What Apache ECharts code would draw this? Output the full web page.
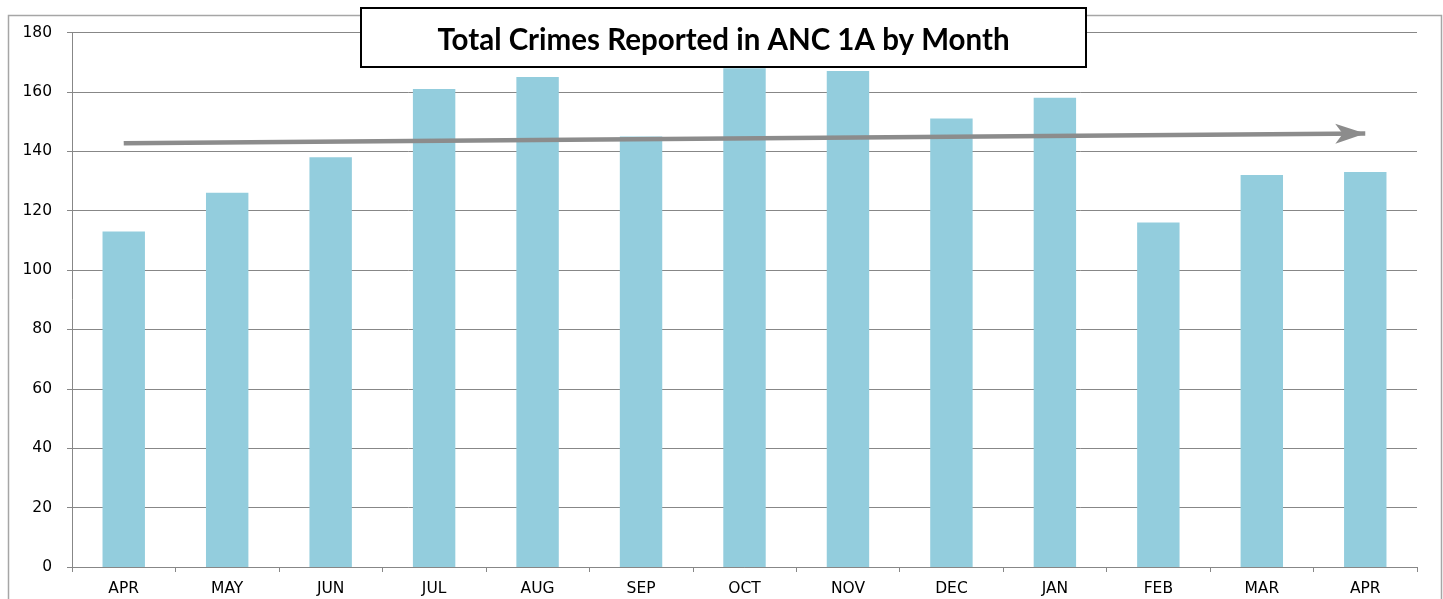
<!DOCTYPE html>
<html>
<head>
<meta charset="utf-8">
<script src="https://cdn.jsdelivr.net/npm/echarts@6/dist/echarts.min.js"></script>
<style>
html,body{margin:0;padding:0;background:#fff;}
#chart{width:1443px;height:599px;}
</style>
</head>
<body>
<div id="chart"></div>
<script>
const titleText = 'Total Crimes Reported in ANC 1A by Month';
const months = ['APR','MAY','JUN','JUL','AUG','SEP','OCT','NOV','DEC','JAN','FEB','MAR','APR'];
const crimes = [113, 126, 138, 161, 165, 145, 168, 167, 151, 158, 116, 132, 133];
const yTicks = [0, 20, 40, 60, 80, 100, 120, 140, 160, 180];
const trendStart = 142.7;
const trendEnd = 146.0;

const chart = echarts.init(document.getElementById('chart'), null, {renderer: 'canvas'});
const gridCol = '#878787';
chart.setOption({
  animation: false,
  backgroundColor: '#ffffff',
  grid: {left: 72, right: 26, top: 32.5, bottom: 32, containLabel: false},
  xAxis: {
    type: 'category',
    data: months.map((m, i) => i + ''),
    axisLine: {lineStyle: {color: gridCol, width: 1}},
    axisTick: {show: true, alignWithLabel: false, length: 5, lineStyle: {color: gridCol}},
    axisLabel: {
      formatter: (v, i) => months[i],
      color: '#000', fontFamily: 'DejaVu Sans', fontSize: 15.5, margin: 14
    },
    splitLine: {show: false}
  },
  yAxis: {
    type: 'value',
    min: yTicks[0], max: yTicks[yTicks.length - 1], interval: yTicks[1] - yTicks[0],
    axisLine: {show: true, lineStyle: {color: gridCol, width: 1}},
    axisTick: {show: true, length: 5, lineStyle: {color: gridCol}},
    axisLabel: {color: '#000', fontFamily: 'DejaVu Sans', fontSize: 15.5, margin: 20},
    splitLine: {show: true, lineStyle: {color: gridCol, width: 1}}
  },
  series: [{
    type: 'bar',
    data: crimes,
    barWidth: '41%',
    itemStyle: {color: '#93CDDD'},
    markLine: {
      silent: true,
      symbol: ['none', 'arrow'],
      symbolSize: [15, 30],
      label: {show: false},
      lineStyle: {color: '#8c8c8c', width: 4.5, type: 'solid'},
      data: [[{coord: [0, trendStart]}, {coord: [months.length - 1, trendEnd]}]],
      z: 10
    }
  }],
  graphic: [
    {type: 'rect', shape: {x: 8.5, y: 15.5, width: 1433, height: 600}, style: {fill: 'none', stroke: '#a6a6a6', lineWidth: 1.5}, z: 0, silent: true},
    {type: 'rect', shape: {x: 361, y: 8, width: 725, height: 59}, style: {fill: '#fff', stroke: '#000', lineWidth: 2}, z: 100},
    {type: 'text', x: 723.5, y: 40, z: 101, style: {text: titleText, fill: '#000', font: 'bold 29.5px Lato', textAlign: 'center', textVerticalAlign: 'middle'}}
  ]
});
</script>
</body>
</html>
